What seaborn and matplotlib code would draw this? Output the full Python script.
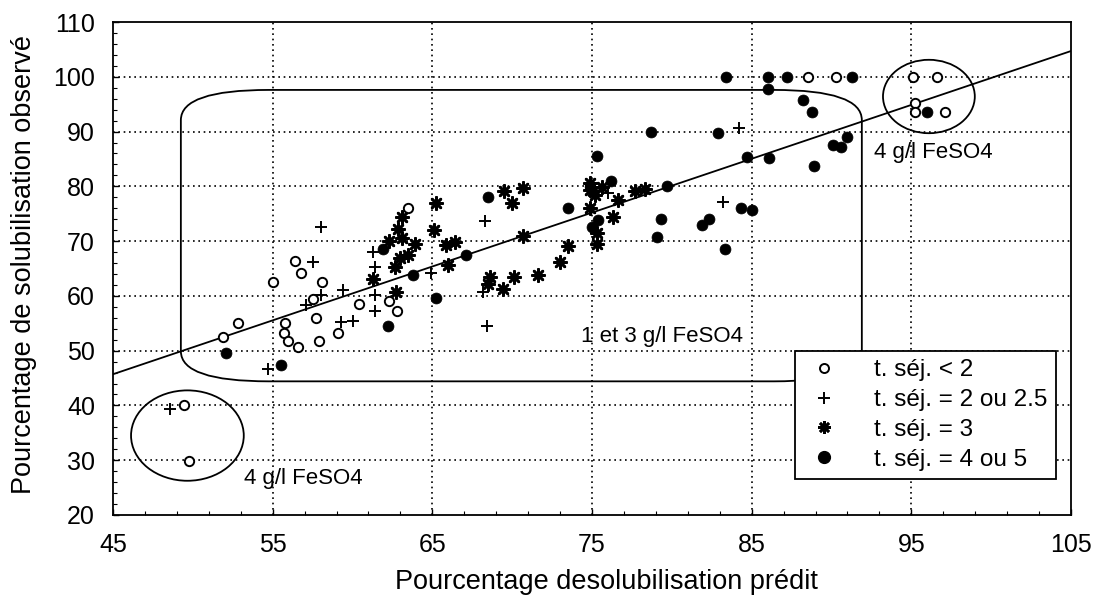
import numpy as np
import pandas as pd
import matplotlib
matplotlib.use("Agg")
import matplotlib.pyplot as plt
import seaborn as sns
from matplotlib.lines import Line2D
from matplotlib.patches import FancyBboxPatch, Ellipse

# ---------------- data ----------------
g1_x = [49.45, 49.75, 51.9, 52.8, 55.0, 55.8, 55.7, 55.95, 56.6, 56.4, 56.8, 57.7, 57.9,
        58.1, 57.5, 59.1, 60.4, 62.3, 62.8, 63.45, 88.5, 90.3, 95.1, 96.6, 95.2, 95.2, 97.1]
g1_y = [40.0, 29.8, 52.5, 55.0, 62.6, 55.0, 53.2, 51.8, 50.6, 66.4, 64.1, 55.9, 51.8,
        62.5, 59.4, 53.2, 58.5, 59.0, 57.3, 76.1, 100, 100, 100, 100, 95.2, 93.6, 93.6]

g2_x = [48.6, 54.7, 57.1, 57.5, 58.0, 58.0, 59.4, 59.3, 60.0, 61.4, 61.4, 61.4, 61.3,
        64.9, 68.3, 68.2, 68.4, 76.0, 83.2, 84.2]
g2_y = [39.4, 46.6, 58.3, 66.2, 72.5, 60.1, 61.0, 55.2, 55.5, 57.2, 60.2, 65.3, 68.0,
        64.2, 73.6, 60.8, 54.5, 78.8, 77.1, 90.7]

g3_x = [61.3, 62.3, 62.85, 62.65, 62.7, 63.1, 63.1, 63.9, 63.45, 63.0, 65.2, 65.1, 65.85,
        66.4, 65.95, 69.5, 70.7, 70.0, 70.65, 73.5, 73.0, 71.6, 70.1, 68.6, 68.5, 69.4,
        74.9, 74.9, 75.2, 75.6, 76.6, 76.3, 77.7, 78.3, 74.85, 75.3, 75.3]
g3_y = [63.1, 70.0, 72.2, 65.2, 60.8, 74.4, 70.5, 69.4, 67.5, 66.9, 77.0, 72.1, 69.2,
        69.85, 65.7, 79.1, 79.7, 76.9, 70.9, 69.1, 66.2, 63.9, 63.5, 63.4, 62.2, 61.2,
        80.55, 79.3, 78.4, 79.9, 77.5, 74.4, 79.1, 79.6, 76.0, 71.4, 69.5]

g4_x = [52.1, 55.5, 61.9, 62.2, 63.8, 65.2, 67.1, 68.5, 73.5, 75.3, 76.2, 75.4, 75.0,
        79.7, 79.3, 79.1, 78.7, 81.9, 82.3, 83.3, 84.35, 85.0, 84.7, 86.1, 82.9, 83.4,
        86.0, 87.2, 91.3, 86.0, 88.2, 88.8, 90.1, 90.6, 91.0, 88.9, 96.0]
g4_y = [49.6, 47.3, 68.5, 54.5, 63.9, 59.6, 67.5, 78.1, 76.1, 85.6, 80.9, 73.8, 72.6,
        80.0, 74.1, 70.8, 90.0, 73.0, 74.0, 68.6, 76.0, 75.7, 85.3, 85.1, 89.7, 100,
        100, 100, 100, 97.7, 95.7, 93.6, 87.6, 87.1, 89.0, 83.7, 93.6]

groups = ["t. séj. < 2", "t. séj. = 2 ou 2.5", "t. séj. = 3", "t. séj. = 4 ou 5"]

fit_x = [45, 105]
fit_y = [45.7, 104.7]

x_ticks = [45, 55, 65, 75, 85, 95, 105]
y_ticks = [20, 30, 40, 50, 60, 70, 80, 90, 100, 110]

xlabel = "Pourcentage desolubilisation prédit"
ylabel = "Pourcentage de solubilisation observé"
note_mid = "1 et 3 g/l FeSO4"
note_4 = "4 g/l FeSO4"

# annotation shapes (data units)
box_xy = (49.25, 44.4)
box_wh = (42.65, 53.2)
ell_left = (49.66, 34.5, 7.06, 16.5)
ell_right = (96.1, 96.4, 5.75, 13.4)

df = pd.concat([
    pd.DataFrame({"x": g1_x, "y": g1_y, "g": groups[0]}),
    pd.DataFrame({"x": g2_x, "y": g2_y, "g": groups[1]}),
    pd.DataFrame({"x": g3_x, "y": g3_y, "g": groups[2]}),
    pd.DataFrame({"x": g4_x, "y": g4_y, "g": groups[3]}),
])
fit = pd.DataFrame({"x": fit_x, "y": fit_y})

# ---------------- figure ----------------
sns.set_theme(style="ticks")
plt.rcParams["font.family"] = ["Liberation Sans", "DejaVu Sans"]
plt.rcParams["text.color"] = "black"
plt.rcParams["axes.labelcolor"] = "black"
plt.rcParams["xtick.color"] = "black"
plt.rcParams["ytick.color"] = "black"

fig = plt.figure(figsize=(11.04, 6.0), dpi=100)
ax = fig.add_axes([113 / 1104, 1 - 515 / 600, 958 / 1104, 493 / 600])

ax.set_xlim(45, 105)
ax.set_ylim(20, 110)

# grid
for v in x_ticks[1:-1]:
    ax.axvline(v, color="black", lw=1.2, ls=(0, (1, 2.2)), zorder=1)
for v in y_ticks[1:-1]:
    ax.axhline(v, color="black", lw=1.2, ls=(0, (1, 2.2)), zorder=1)

# regression line
sns.lineplot(data=fit, x="x", y="y", ax=ax, color="black", lw=1.3, zorder=3)

# annotation shapes
ax.add_patch(FancyBboxPatch(box_xy, box_wh[0], box_wh[1],
                            boxstyle="round,pad=0,rounding_size=5.5",
                            fill=False, ec="black", lw=1.3, zorder=2))
ax.add_patch(Ellipse(ell_left[:2], ell_left[2], ell_left[3], fill=False,
                     ec="black", lw=1.3, zorder=2))
ax.add_patch(Ellipse(ell_right[:2], ell_right[2], ell_right[3], fill=False,
                     ec="black", lw=1.3, zorder=2))

# points
sns.scatterplot(data=df[df.g == groups[0]], x="x", y="y", ax=ax, marker="o",
                s=45, facecolor="white", edgecolor="black", linewidth=1.4, zorder=5)
sns.scatterplot(data=df[df.g == groups[1]], x="x", y="y", ax=ax, marker="+",
                s=75, color="black", linewidth=1.4, zorder=5)
sns.scatterplot(data=df[df.g == groups[2]], x="x", y="y", ax=ax, marker=(8, 2, 0),
                s=80, color="black", linewidth=1.9, zorder=5)
sns.scatterplot(data=df[df.g == groups[3]], x="x", y="y", ax=ax, marker="o",
                s=62, color="black", edgecolor="black", linewidth=0.5, zorder=5)

# texts
ax.text(79.4, 52.5, note_mid, fontsize=16, ha="center", va="center", zorder=6)
ax.text(96.4, 86.1, note_4, fontsize=16, ha="center", va="center", zorder=6)
ax.text(56.9, 26.6, note_4, fontsize=16, ha="center", va="center", zorder=6)

# axes styling
ax.set_xticks(x_ticks)
ax.set_yticks(y_ticks)
ax.set_xticks(np.arange(45, 106, 2), minor=True)
ax.set_yticks(np.arange(20, 111, 2), minor=True)
ax.tick_params(axis="both", which="major", direction="in", length=4, width=1,
               labelsize=18, pad=13)
ax.tick_params(axis="both", which="minor", direction="in", length=3, width=0.8)
ax.xaxis.set_minor_formatter(plt.NullFormatter())
ax.yaxis.set_minor_formatter(plt.NullFormatter())
for sp in ax.spines.values():
    sp.set_visible(True)
    sp.set_color("black")
    sp.set_linewidth(1.3)

ax.set_xlabel(xlabel, fontsize=19.5, va="center", ha="center")
ax.xaxis.set_label_coords((606 - 113) / 958, -(582 - 515) / 493)
ax.set_ylabel(ylabel, fontsize=19.5, va="center", ha="center")
ax.yaxis.set_label_coords(-(113 - 24) / 958, (515 - 264) / 493)

handles = [
    Line2D([], [], ls="", marker="o", ms=6.5, mfc="white", mec="black", mew=1.4),
    Line2D([], [], ls="", marker="+", ms=9, color="black", mew=1.4),
    Line2D([], [], ls="", marker=(8, 2, 0), ms=9, color="black", mew=1.9),
    Line2D([], [], ls="", marker="o", ms=8.5, color="black"),
]
leg = ax.legend(handles, groups, loc="upper left", bbox_to_anchor=(0.712, 0.333),
                fontsize=17.5, frameon=True, fancybox=False, framealpha=1,
                edgecolor="black", borderpad=0.35, labelspacing=0.32,
                handletextpad=1.2, handlelength=1.7, borderaxespad=0)
leg.get_frame().set_linewidth(1.3)
leg.set_zorder(10)

fig.savefig("out.png", dpi=100, facecolor="white")
